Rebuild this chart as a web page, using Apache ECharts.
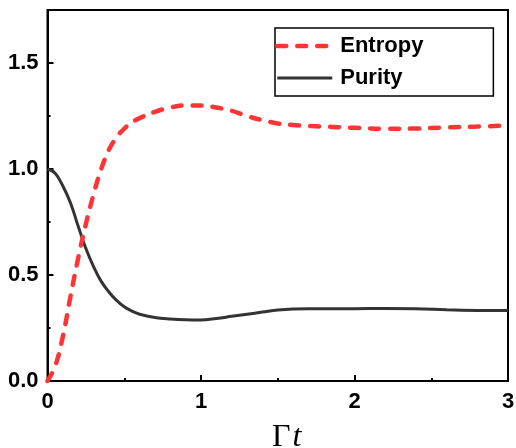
<!DOCTYPE html>
<html>
<head>
<meta charset="utf-8">
<script src="https://cdn.jsdelivr.net/npm/echarts@6/dist/echarts.min.js"></script>
<style>html,body{margin:0;padding:0;background:#fff;}#c{width:516px;height:448px;}</style>
</head>
<body>
<div id="c"></div>
<script>
const tValues = [0, 0.05, 0.1, 0.15, 0.2, 0.25, 0.3, 0.35, 0.4, 0.45, 0.5, 0.55, 0.6, 0.7, 0.8, 0.9, 1.0, 1.1, 1.2, 1.3, 1.4, 1.5, 1.6, 1.7, 1.8, 1.9, 2.0, 2.2, 2.4, 2.6, 2.8, 3.0];
const entropy = [0, 0.07, 0.21, 0.40, 0.58, 0.74, 0.88, 1.0, 1.09, 1.15, 1.19, 1.22, 1.24, 1.27, 1.29, 1.30, 1.30, 1.29, 1.275, 1.25, 1.23, 1.215, 1.207, 1.203, 1.2, 1.197, 1.194, 1.19, 1.191, 1.196, 1.2, 1.205];
const purity = [1.0, 0.98, 0.92, 0.84, 0.73, 0.625, 0.54, 0.47, 0.42, 0.38, 0.35, 0.33, 0.315, 0.30, 0.293, 0.289, 0.288, 0.295, 0.305, 0.315, 0.325, 0.335, 0.34, 0.341, 0.341, 0.341, 0.341, 0.342, 0.341, 0.336, 0.333, 0.332];
const seriesNames = ['Entropy', 'Purity'];
const xTicks = [0, 1, 2, 3];
const yTicks = [0, 0.5, 1.0, 1.5];

const chart = echarts.init(document.getElementById('c'), null, {renderer: 'canvas'});
const pair = (ys) => tValues.map((t, i) => [t, ys[i]]);
const labelFont = {fontFamily: 'Liberation Sans, Arial, sans-serif', fontWeight: 'bold', fontSize: 22, color: '#000'};
const entropyLine = {color: '#ff3535', width: 4.5, type: [9, 11], cap: 'round'};
const purityLine = {color: '#333333', width: 3};

chart.setOption({
  animation: false,
  backgroundColor: '#fff',
  grid: {left: 47.5, right: 8, top: 10, bottom: 67, show: true, borderColor: '#000', borderWidth: 2,
    containLabel: false, outerBoundsMode: 'none'},
  legend: {
    left: 275, top: 28, orient: 'vertical',
    borderColor: '#000', borderWidth: 1.5, padding: [7, 70, 7, 0],
    itemWidth: 55, itemHeight: 14, itemGap: 10,
    itemStyle: {opacity: 0},
    textStyle: Object.assign({}, labelFont, {lineHeight: 20, padding: [0, 0, 0, 3]}),
    data: [
      {name: seriesNames[0], lineStyle: entropyLine},
      {name: seriesNames[1], lineStyle: purityLine}
    ]
  },
  xAxis: {
    type: 'value', min: xTicks[0], max: xTicks[xTicks.length - 1], interval: 1,
    axisLine: {lineStyle: {color: '#000', width: 2}},
    axisTick: {inside: true, length: 6, lineStyle: {color: '#000', width: 2}},
    minorTick: {show: true, splitNumber: 2, length: 3, lineStyle: {color: '#000', width: 2}},
    splitLine: {show: false},
    axisLabel: Object.assign({}, labelFont, {margin: 10, formatter: v => String(v)}),
    name: '{g|Γ}{t|t}', nameLocation: 'middle', nameGap: 41,
    nameTextStyle: {
      padding: [0, 0, 0, 18],
      rich: {
        g: {fontFamily: 'Liberation Serif, DejaVu Serif, serif', fontSize: 32, color: '#000'},
        t: {fontFamily: 'Liberation Serif, DejaVu Serif, serif', fontSize: 32, fontStyle: 'italic', color: '#000', padding: [0, 0, 0, 2]}
      }
    }
  },
  yAxis: {
    type: 'value', min: 0, max: 1.75, interval: 0.5,
    axisLine: {show: true, lineStyle: {color: '#000', width: 2}},
    axisTick: {show: true, inside: true, length: 6, lineStyle: {color: '#000', width: 2}},
    minorTick: {show: true, splitNumber: 2, length: 3, lineStyle: {color: '#000', width: 2}},
    splitLine: {show: false},
    axisLabel: Object.assign({}, labelFont, {margin: 9, showMaxLabel: false,
      formatter: v => yTicks.some(t => Math.abs(t - v) < 1e-9) ? v.toFixed(1) : ''})
  },
  series: [
    {
      name: seriesNames[0], type: 'line', data: pair(entropy), smooth: 0.4, symbol: 'none',
      itemStyle: {color: '#ff3535'},
      lineStyle: entropyLine,
      z: 3
    },
    {
      name: seriesNames[1], type: 'line', data: pair(purity), smooth: 0.4, symbol: 'none',
      itemStyle: {color: '#333333'},
      lineStyle: purityLine,
      z: 2
    }
  ]
});
</script>
</body>
</html>
